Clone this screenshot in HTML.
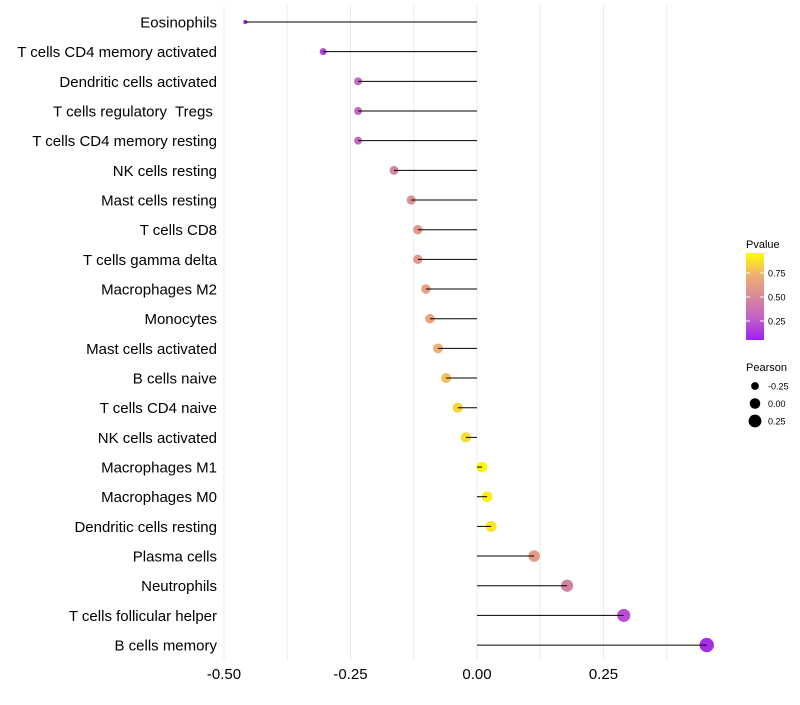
<!DOCTYPE html>
<html><head><meta charset="utf-8"><style>
body{margin:0;background:#fff;font-family:"Liberation Sans",sans-serif}
text{white-space:pre}
</style></head><body>
<svg id="c" width="800" height="700"></svg>
<script>
const cats=["Eosinophils","T cells CD4 memory activated","Dendritic cells activated","T cells regulatory  Tregs ","T cells CD4 memory resting","NK cells resting","Mast cells resting","T cells CD8","T cells gamma delta","Macrophages M2","Monocytes","Mast cells activated","B cells naive","T cells CD4 naive","NK cells activated","Macrophages M1","Macrophages M0","Dendritic cells resting","Plasma cells","Neutrophils","T cells follicular helper","B cells memory"];
const pearson=[-0.458,-0.304,-0.235,-0.235,-0.235,-0.164,-0.130,-0.117,-0.117,-0.101,-0.093,-0.077,-0.061,-0.038,-0.022,0.010,0.020,0.028,0.113,0.178,0.290,0.454];
const pvals=[0.03,0.15,0.30,0.30,0.30,0.45,0.55,0.60,0.60,0.65,0.68,0.74,0.80,0.86,0.90,0.97,0.95,0.92,0.62,0.45,0.18,0.05];
const xTicks=[-0.5,-0.25,0,0.25];
const xTickLabels=["-0.50","-0.25","0.00","0.25"];
const legTicks=[0.25,0.5,0.75];
const legSizes=[-0.25,0,0.25];

const svg=document.getElementById('c');const NS="http://www.w3.org/2000/svg";
function mk(t,a,p){const e=document.createElementNS(NS,t);for(const k in a)e.setAttribute(k,a[k]);(p||svg).appendChild(e);return e;}
const x=v=>477+(v)*506;
const y=i=>22+i*29.67;
const stops=[[0,[160,32,240]],[0.25,[192,96,200]],[0.5,[216,138,154]],[0.75,[240,176,112]],[1,[255,255,0]]];
function col(p){for(let i=1;i<stops.length;i++){if(p<=stops[i][0]){const a=stops[i-1],b=stops[i],t=(p-a[0])/(b[0]-a[0]);return 'rgb('+a[1].map((c,j)=>Math.round(c+(b[1][j]-c)*t)).join(',')+')';}}return 'rgb(255,255,0)';}
const r=v=>Math.sqrt(Math.max(1.5,28+52*v));
[-0.5,-0.375,-0.25,-0.125,0,0.125,0.25,0.375].forEach(v=>{const g=mk('line',{x1:x(v),x2:x(v),y1:5,y2:660,stroke:'#ebebeb','stroke-width':1});});
xTicks.forEach((v,i)=>{const t=mk('text',{x:x(v),y:679,'text-anchor':'middle','font-size':15,fill:'#000'});t.textContent=xTickLabels[i];});
cats.forEach((c,i)=>{
 const t=mk('text',{x:217,y:y(i)+5.5,'text-anchor':'end','font-size':15,fill:'#000'});t.textContent=c;
 
 const pt=mk('circle',{cx:x(pearson[i]),cy:y(i),r:r(pearson[i]),fill:col(pvals[i])});
 
 const l=mk('line',{x1:x(0),x2:x(pearson[i]),y1:y(i),y2:y(i),stroke:'#000','stroke-width':1});
 
});
let t=mk('text',{x:746,y:248,'font-size':11});t.textContent='Pvalue';
const defs=mk('defs',{});const gr=mk('linearGradient',{id:'g',x1:0,y1:1,x2:0,y2:0},defs);
stops.forEach(s=>mk('stop',{offset:s[0],'stop-color':col(s[0])},gr));
const bar=mk('rect',{x:746,y:253,width:18,height:87,fill:'url(#g)'});
legTicks.forEach(v=>{const yy=345-v*96;mk('line',{x1:746,x2:750,y1:yy,y2:yy,stroke:'#fff'});mk('line',{x1:760,x2:764,y1:yy,y2:yy,stroke:'#fff'});const tt=mk('text',{x:768,y:yy+3.5,'font-size':9});tt.textContent=v.toFixed(2);});
t=mk('text',{x:746,y:371,'font-size':11});t.textContent='Pearson';
legSizes.forEach((v,i)=>{const yy=386+i*17.5;const c=mk('circle',{cx:755,cy:yy,r:r(v),fill:'#000'});const tt=mk('text',{x:768,y:yy+3.5,'font-size':9});tt.textContent=v.toFixed(2);});
</script>
</body></html>
